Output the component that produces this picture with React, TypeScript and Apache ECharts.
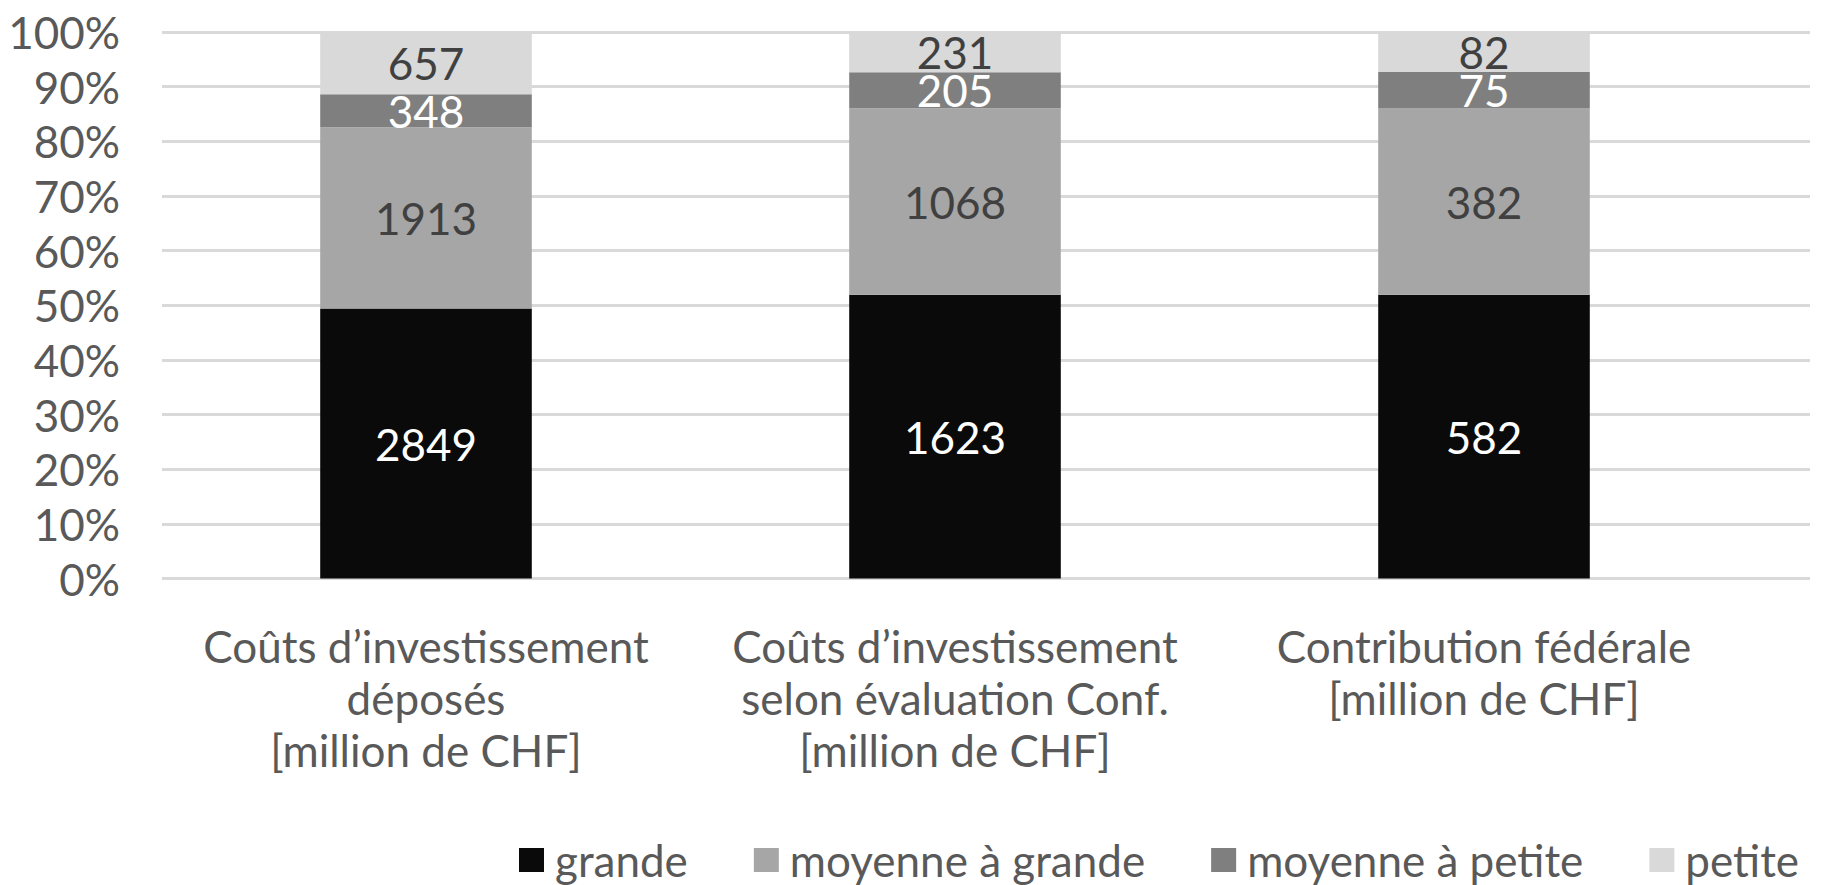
import React, { useEffect, useRef } from "react";
import * as echarts from "echarts";

const categories = [
  "Coûts d’investissement\ndéposés\n[million de CHF]",
  "Coûts d’investissement\nselon évaluation Conf.\n[million de CHF]",
  "Contribution fédérale\n[million de CHF]",
];
const seriesNames = ["grande", "moyenne à grande", "moyenne à petite", "petite"];
const grande = [2849, 1623, 582];
const moyenneGrande = [1913, 1068, 382];
const moyennePetite = [348, 205, 75];
const petite = [657, 231, 82];
const seriesValues = [grande, moyenneGrande, moyennePetite, petite];
const seriesColors = ["#0a0a0a", "#a6a6a6", "#7f7f7f", "#d9d9d9"];
const labelColors = ["#ffffff", "#404040", "#ffffff", "#404040"];

const FONT = "Lato";
const FS = 44;

export default function App() {
  const ref = useRef<HTMLDivElement>(null);
  useEffect(() => {
    if (!ref.current) return;
    const chart = echarts.init(ref.current, undefined, { renderer: "svg" });
    const totals = categories.map((_, i) =>
      seriesValues.reduce((s, arr) => s + arr[i], 0)
    );
    chart.setOption({
      animation: false,
      backgroundColor: "#ffffff",
      textStyle: { fontFamily: FONT },
      grid: [
        { left: 162, right: 15, top: 32, bottom: 306.5 },
        { left: 161.5, right: 76.5, top: 32, bottom: 306.5 },
      ],
      legend: {
        data: seriesNames,
        left: 519,
        top: 838,
        padding: 0,
        itemWidth: 25,
        itemHeight: 24,
        itemGap: 66,
        icon: "rect",
        textStyle: {
          fontSize: FS,
          fontFamily: FONT,
          color: "#595959",
          padding: [0, 0, 0, 6],
        },
      },
      xAxis: [
        { gridIndex: 0, type: "value", min: 0, max: 1, show: false },
        {
          gridIndex: 1,
          type: "category",
          data: categories,
          axisLine: { show: false },
          axisTick: { show: false },
          axisLabel: {
            interval: 0,
            margin: 41,
            fontSize: FS,
            fontFamily: FONT,
            lineHeight: 52,
            color: "#595959",
          },
        },
      ],
      yAxis: [
        {
          gridIndex: 0,
          type: "value",
          min: 0,
          max: 100,
          interval: 10,
          axisLine: { show: false },
          axisTick: { show: false },
          axisLabel: {
            formatter: "{value}%",
            margin: 42,
            fontSize: FS,
            fontFamily: FONT,
            color: "#595959",
          },
          splitLine: { lineStyle: { color: "#d9d9d9", width: 3 } },
        },
        { gridIndex: 1, type: "value", min: 0, max: 100, show: false },
      ],
      series: seriesNames.map((name, si) => ({
        name,
        type: "bar",
        stack: "total",
        xAxisIndex: 1,
        yAxisIndex: 1,
        barWidth: "40%",
        itemStyle: { color: seriesColors[si] },
        label: {
          show: true,
          position: "inside",
          fontSize: FS,
          fontFamily: FONT,
          lineHeight: 32,
          color: labelColors[si],
          formatter: (p: any) => String(seriesValues[si][p.dataIndex]),
        },
        data: seriesValues[si].map((v, i) => (v / totals[i]) * 100),
      })),
    });
    return () => chart.dispose();
  }, []);
  return (
    <div
      ref={ref}
      style={{ position: "fixed", left: 0, top: 0, width: 1825, height: 885 }}
    />
  );
}
